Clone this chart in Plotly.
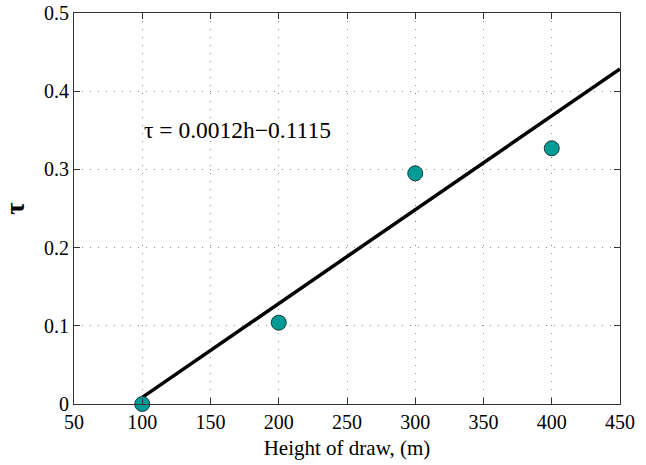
import plotly.graph_objects as go

# measured tau vs. height of draw
heights = [100, 200, 300, 400]
tau_vals = [0.0, 0.104, 0.295, 0.327]

# linear fit: tau = slope*h + intercept
slope = 0.0012
intercept = -0.1115
fit_x = [100, 450]
fit_y = [slope * h + intercept for h in fit_x]

x_ticks = [50, 100, 150, 200, 250, 300, 350, 400, 450]
y_ticks = [0, 0.1, 0.2, 0.3, 0.4, 0.5]
y_labels = ["0", "0.1", "0.2", "0.3", "0.4", "0.5"]

font_family = "Liberation Serif, Times New Roman, serif"

fig = go.Figure()
fig.add_trace(go.Scatter(
    x=fit_x, y=fit_y, mode="lines",
    line=dict(color="black", width=3.5),
    showlegend=False,
))
fig.add_trace(go.Scatter(
    x=heights, y=tau_vals, mode="markers",
    marker=dict(size=15, color="#009b96", line=dict(color="#1a3a3a", width=1)),
    cliponaxis=False,
    showlegend=False,
))

fig.add_annotation(
    x=100, y=0.35, xref="x", yref="y",
    text="τ = 0.0012h\u22120.1115", showarrow=False,
    xanchor="left", yanchor="middle",
    font=dict(family=font_family, size=23.5, color="black"),
)

axis_common = dict(
    showline=True, linecolor="#333333", linewidth=1.2, mirror="ticks",
    ticks="inside", ticklen=6, tickcolor="#333333", tickwidth=1,
    showgrid=True, gridcolor="#8c8c8c", griddash="1px,7px", gridwidth=1,
    zeroline=False, automargin=False,
    tickfont=dict(family=font_family, size=20, color="black"),
)

fig.update_xaxes(
    range=[50, 450], tickvals=x_ticks,
    title=dict(text="Height of draw, (m)", font=dict(family=font_family, size=21, color="black"), standoff=8),
    **axis_common,
)
fig.update_yaxes(
    range=[0, 0.5], tickvals=y_ticks, ticktext=y_labels,
    title=dict(text="<b>τ</b>", font=dict(family=font_family, size=27, color="black"), standoff=14),
    **axis_common,
)

fig.update_layout(
    width=646, height=465,
    margin=dict(l=74, r=26, t=13, b=61),
    paper_bgcolor="white", plot_bgcolor="white",
)

fig.write_html("out.html")
